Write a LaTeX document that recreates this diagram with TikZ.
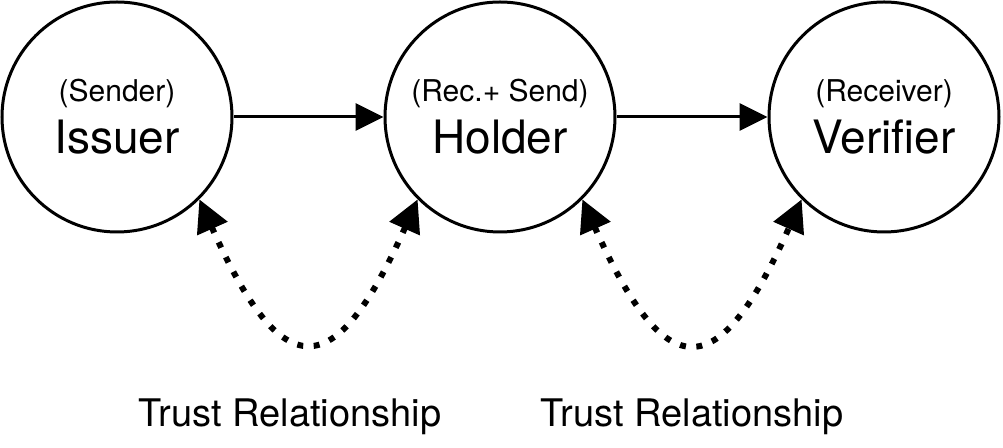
\documentclass[tikz,border=0pt]{standalone}
\usepackage{fontspec}
\setmainfont{TeX Gyre Heros}
\usetikzlibrary{arrows.meta}

\tikzset{
    party/.style={draw, circle, line width=1.5pt, minimum size=115pt, inner sep=0pt,
        align=center, font=\fontsize{23}{26}\selectfont},
    flow/.style={line width=1.5pt, -{Triangle[length=14pt, width=13.5pt]}},
    trustlink/.style={line width=3pt, dash pattern=on 3pt off 5.25pt,
        {Triangle[length=16pt, width=16pt]}-{Triangle[length=16pt, width=16pt]}, looseness=2.4},
    trustlabel/.style={anchor=base, font=\fontsize{19}{22}\selectfont},
}
\newcommand{\roletext}[1]{{\fontsize{15}{15}\selectfont #1}}

\begin{document}
\begin{tikzpicture}[x=1pt, y=1pt]
        \useasboundingbox (0, 0) rectangle (501.5, 224);

        \node[party] (issuer) at (58.5, 165.5) {\roletext{(Sender)}\\Issuer};
        \node[party] (holder) at (250, 165.5) {\roletext{(Rec.+ Send)}\\Holder};
        \node[party] (verifier) at (442, 165.5) {\roletext{(Receiver)}\\Verifier};

        \draw[flow] (issuer.east) -- (holder.west);
        \draw[flow] (holder.east) -- (verifier.west);

        \draw[trustlink] (issuer.-45) to[out=-66, in=-114] (holder.-135);
        \draw[trustlink] (holder.-45) to[out=-66, in=-114] (verifier.-135);

        \node[trustlabel] (trustleft) at (145, 10.5) {Trust Relationship};
        \node[trustlabel] (trustright) at (346, 10.5) {Trust Relationship};
    \end{tikzpicture}
\end{document}
